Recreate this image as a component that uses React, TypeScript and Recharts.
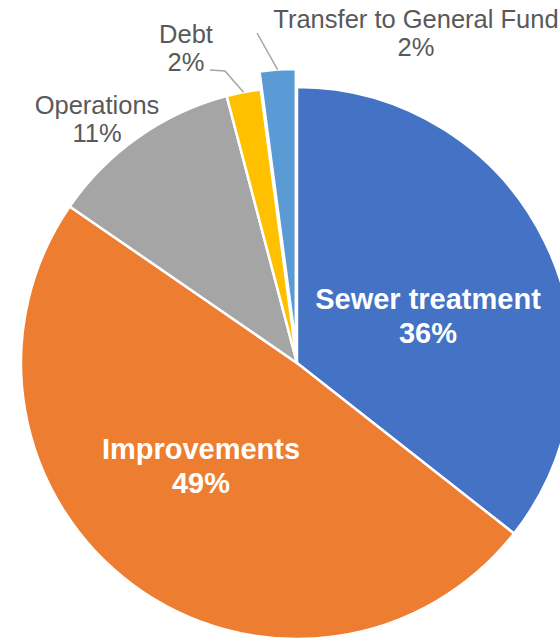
import { PieChart, Pie, Cell } from 'recharts';

const categories = ['Sewer treatment', 'Improvements', 'Operations', 'Debt', 'Transfer to General Fund'];
const shares = [35.6, 49.0, 11.3, 2.0, 2.1];
const colors = ['#4472C4', '#ED7D31', '#A5A5A5', '#FFC000', '#5B9BD5'];
const explodedName = 'Transfer to General Fund';

const data = categories.map((name, i) => ({ name, value: shares[i] }));

const CX = 297;
const CY = 363;
const R = 276;
const EXPLODE = 18;
const FONT = '"Liberation Sans", Arial, sans-serif';

// label placement relative to pie centre: x of text centre, baselines of both lines
const labelLayout: Record<string, { dx: number; dy: number; inside: boolean; line?: [number, number][] }> = {
  'Sewer treatment': { dx: 131, dy: -54, inside: true },
  'Improvements': { dx: -96, dy: 96, inside: true },
  'Operations': { dx: -200, dy: -249, inside: false },
  'Debt': { dx: -111, dy: -320, inside: false, line: [[-72, -292], [-87, -293]] },
  'Transfer to General Fund': { dx: 119, dy: -335, inside: false, line: [[-40, -330]] },
};

const total = shares.reduce((a, b) => a + b, 0);
const explodedIdx = categories.indexOf(explodedName);
const before = shares.slice(0, explodedIdx).reduce((a, b) => a + b, 0);
const midFrac = (before + shares[explodedIdx] / 2) / total;
const explodeDx = EXPLODE * Math.sin(midFrac * 2 * Math.PI);
const explodeDy = -EXPLODE * Math.cos(midFrac * 2 * Math.PI);

const renderLabel = (props: any) => {
  const { cx, cy, midAngle, outerRadius, percent, name } = props;
  const lay = labelLayout[name];
  if (!lay) return null;
  const pct = `${Math.round(percent * 100)}%`;
  const x = cx + lay.dx;
  const y = cy + lay.dy;
  let line = null;
  if (lay.line) {
    const rad = (-midAngle * Math.PI) / 180;
    let sx = cx + outerRadius * Math.cos(rad);
    let sy = cy + outerRadius * Math.sin(rad);
    if (name === explodedName) {
      sx += explodeDx;
      sy += explodeDy;
    }
    const pts = [[sx, sy], ...lay.line.map(([px, py]) => [cx + px, cy + py])];
    line = (
      <polyline
        points={pts.map((p) => p.join(',')).join(' ')}
        fill="none"
        stroke="#A6A6A6"
        strokeWidth={1.5}
      />
    );
  }
  const style = lay.inside
    ? { fill: '#ffffff', fontSize: 29, fontWeight: 700 }
    : { fill: '#595959', fontSize: 25.5, fontWeight: 400 };
  return (
    <g>
      {line}
      <text x={x} y={y} textAnchor="middle" fontFamily={FONT} {...style}>
        {name}
      </text>
      <text x={x} y={y + (lay.inside ? 34 : 28)} textAnchor="middle" fontFamily={FONT} {...style}>
        {pct}
      </text>
    </g>
  );
};

export default function App() {
  return (
    <div style={{ position: 'absolute', left: 0, top: 0, width: 560, height: 639, background: '#fff' }}>
      <PieChart width={560} height={639} margin={{ top: 0, right: 0, bottom: 0, left: 0 }}>
        <Pie
          data={data}
          dataKey="value"
          nameKey="name"
          cx={CX}
          cy={CY}
          outerRadius={R}
          startAngle={90}
          endAngle={-270}
          stroke="#ffffff"
          strokeWidth={2.5}
          label={renderLabel}
          labelLine={false}
          isAnimationActive={false}
        >
          {data.map((d, i) => (
            <Cell
              key={d.name}
              fill={d.name === explodedName ? 'none' : colors[i]}
              stroke={d.name === explodedName ? 'none' : '#ffffff'}
            />
          ))}
        </Pie>
        <Pie
          data={data}
          dataKey="value"
          nameKey="name"
          cx={CX + explodeDx}
          cy={CY + explodeDy}
          outerRadius={R}
          startAngle={90}
          endAngle={-270}
          strokeWidth={2.5}
          label={false}
          labelLine={false}
          isAnimationActive={false}
        >
          {data.map((d, i) => (
            <Cell
              key={d.name}
              fill={d.name === explodedName ? colors[i] : 'none'}
              stroke={d.name === explodedName ? '#ffffff' : 'none'}
            />
          ))}
        </Pie>
      </PieChart>
    </div>
  );
}
